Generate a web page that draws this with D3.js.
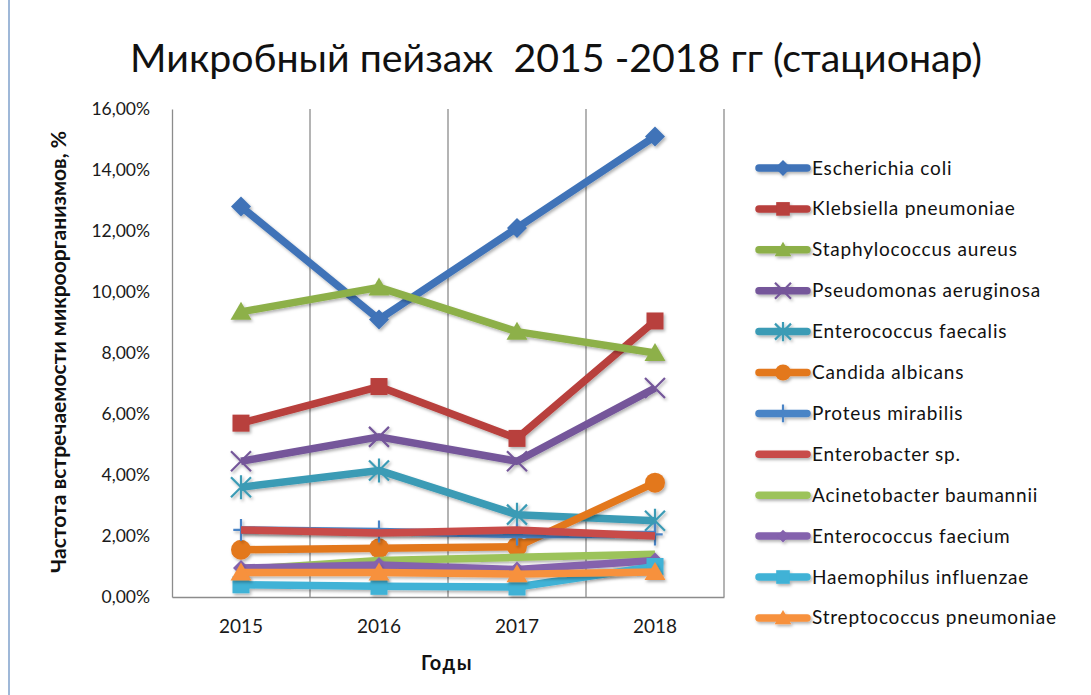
<!DOCTYPE html>
<html>
<head>
<meta charset="utf-8">
<script src="https://cdn.jsdelivr.net/npm/d3@7"></script>
<style>
  html, body { margin: 0; padding: 0; background: #fff; }
  svg { display: block; font-family: Lato, "Open Sans", sans-serif; }
</style>
</head>
<body>
<svg id="chart" width="1091" height="695"></svg>
<script>
// Years on the category axis
const years = ["2015", "2016", "2017", "2018"];

// Share of each organism per year (fractions)
const escherichiaColi        = [0.128, 0.091, 0.121, 0.151];
const klebsiellaPneumoniae   = [0.057, 0.069, 0.052, 0.0905];
const staphylococcusAureus   = [0.0935, 0.1015, 0.087, 0.080];
const pseudomonasAeruginosa  = [0.0445, 0.0525, 0.0445, 0.0685];
const enterococcusFaecalis   = [0.036, 0.0415, 0.027, 0.025];
const candidaAlbicans        = [0.0155, 0.016, 0.0165, 0.0375];
const proteusMirabilis       = [0.022, 0.0215, 0.0205, 0.0205];
const enterobacterSp         = [0.022, 0.021, 0.022, 0.020];
const acinetobacterBaumannii = [0.009, 0.012, 0.013, 0.014];
const enterococcusFaecium    = [0.0095, 0.0105, 0.009, 0.012];
const haemophilusInfluenzae  = [0.004, 0.0035, 0.0033, 0.010];
const streptococcusPneumoniae= [0.008, 0.008, 0.0075, 0.0082];

const seriesNames = [
  "Escherichia coli", "Klebsiella pneumoniae", "Staphylococcus aureus",
  "Pseudomonas aeruginosa", "Enterococcus faecalis", "Candida albicans",
  "Proteus mirabilis", "Enterobacter sp.", "Acinetobacter baumannii",
  "Enterococcus faecium", "Haemophilus influenzae", "Streptococcus pneumoniae"
];
const seriesValues = [
  escherichiaColi, klebsiellaPneumoniae, staphylococcusAureus,
  pseudomonasAeruginosa, enterococcusFaecalis, candidaAlbicans,
  proteusMirabilis, enterobacterSp, acinetobacterBaumannii,
  enterococcusFaecium, haemophilusInfluenzae, streptococcusPneumoniae
];
const yTicks = [0, 0.02, 0.04, 0.06, 0.08, 0.10, 0.12, 0.14, 0.16];

// Styling per series: colour and marker shape
const colors = ["#3f73b8", "#b83f3c", "#8db04a", "#74579a", "#3b9bb5", "#e3781f",
                "#4a84c6", "#c84b48", "#9cc35a", "#8462ad", "#3fb2d6", "#f7913e"];
const markers = ["diamond", "square", "triangle", "cross", "star", "circle",
                 "plus", "none", "none", "diamondSmall", "square", "triangle"];

const svg = d3.select("#chart");
const W = 1091, H = 695;
const plot = { left: 172, right: 724, top: 109, bottom: 597 };

const ru = d3.formatLocale({ decimal: ",", thousands: "\u00a0", grouping: [3], currency: ["", ""], percent: "%" });
const fmt = ru.format(".2%");

const x = d3.scaleBand().domain(years).range([plot.left, plot.right]).padding(0);
const xc = d => x(d) + x.bandwidth() / 2;
const y = d3.scaleLinear().domain([0, 0.16]).range([plot.bottom, plot.top]);

// Soft shadow under lines and markers (wide absolute region so flat lines keep it)
const defs = svg.append("defs");
const f = defs.append("filter").attr("id", "shadow").attr("filterUnits", "userSpaceOnUse")
  .attr("x", -W).attr("y", -H).attr("width", 3 * W).attr("height", 3 * H);
f.append("feDropShadow").attr("dx", 1.5).attr("dy", 2).attr("stdDeviation", 1.5)
  .attr("flood-color", "#000").attr("flood-opacity", 0.3);

function fitWidth(t, target) {
  const w = t.node().getComputedTextLength();
  const fs = parseFloat(t.style("font-size"));
  t.style("font-size", (fs * target / w).toFixed(2) + "px");
}

// Frame edge on the left
svg.append("line").attr("x1", 9).attr("x2", 9).attr("y1", 0).attr("y2", H)
  .attr("stroke", "#9fb8d8").attr("stroke-width", 2);

// Title
const title = svg.append("text").attr("x", 556).attr("y", 72).attr("text-anchor", "middle")
  .attr("fill", "#111").style("font-size", "36px")
  .attr("xml:space", "preserve")
  .text("Микробный пейзаж  2015 -2018 гг (стационар)");
fitWidth(title, 852);

// Vertical gridlines at category boundaries
const bounds = years.map(d => x(d) + x.bandwidth());
svg.append("g").selectAll("line").data(bounds).join("line")
  .attr("x1", d => d).attr("x2", d => d).attr("y1", plot.top).attr("y2", plot.bottom)
  .attr("stroke", "#8c8c8c").attr("stroke-width", 1.3);

// Axes
const yAxis = svg.append("g").attr("transform", `translate(${plot.left},0)`)
  .call(d3.axisLeft(y).tickValues(yTicks).tickFormat(fmt).tickSize(0).tickPadding(22))
  .attr("font-family", null).attr("font-size", null);
yAxis.select(".domain").attr("stroke", "#8c8c8c").attr("stroke-width", 1.3);
yAxis.selectAll("text").style("font-size", "17.5px").attr("fill", "#1a1a1a");

const xAxis = svg.append("g").attr("transform", `translate(0,${plot.bottom})`)
  .call(d3.axisBottom(x).tickSize(0).tickPadding(23))
  .attr("font-family", null).attr("font-size", null);
xAxis.select(".domain").attr("stroke", "#8c8c8c").attr("stroke-width", 1.3);
xAxis.selectAll("text").style("font-size", "19px").attr("fill", "#1a1a1a");

// Axis titles
const yTitle = svg.append("text").attr("transform", "translate(66,352) rotate(-90)").attr("text-anchor", "middle")
  .style("font-size", "17px").style("font-weight", "bold").attr("fill", "#111")
  .text("Частота встречаемости микроорганизмов, %");
fitWidth(yTitle, 442);
svg.append("text").attr("x", 447).attr("y", 670).attr("text-anchor", "middle")
  .style("font-size", "20px").style("font-weight", "bold").style("letter-spacing", "1.5px").attr("fill", "#111")
  .text("Годы");

// Marker drawing
function drawMarker(g, type, color, big) {
  const s = big ? 1 : 0.8;
  if (type === "diamond" || type === "diamondSmall") {
    const r = (type === "diamond" ? 10 : 8) * s;
    g.append("path").attr("d", `M0,${-r}L${r},0L0,${r}L${-r},0Z`).attr("fill", color);
  } else if (type === "square") {
    const r = 8.5 * s;
    g.append("rect").attr("x", -r).attr("y", -r).attr("width", 2 * r).attr("height", 2 * r).attr("fill", color);
  } else if (type === "triangle") {
    const r = 10 * s;
    g.append("path").attr("d", `M0,${-r}L${r * 1.05},${r * 0.8}L${-r * 1.05},${r * 0.8}Z`).attr("fill", color);
  } else if (type === "circle") {
    g.append("circle").attr("r", 10 * s).attr("fill", color);
  } else if (type === "cross") {
    const r = 10 * s;
    g.append("path").attr("d", `M${-r},${-r}L${r},${r}M${-r},${r}L${r},${-r}`)
      .attr("stroke", color).attr("stroke-width", 2.2);
  } else if (type === "star") {
    const r = 10 * s;
    g.append("path").attr("d", `M${-r},${-r}L${r},${r}M${-r},${r}L${r},${-r}M0,${-r * 1.2}L0,${r * 1.2}`)
      .attr("stroke", color).attr("stroke-width", 2.2);
  } else if (type === "plus") {
    const r = 11 * s;
    g.append("path").attr("d", `M0,${-r}L0,${r}M${-r * 0.7},0L${r * 0.7},0`)
      .attr("stroke", color).attr("stroke-width", 2.2);
  }
}

// Series lines and markers
const line = d3.line().x((d, i) => xc(years[i])).y(d => y(d));
const seriesG = svg.append("g");
seriesValues.forEach((vals, k) => {
  const g = seriesG.append("g").attr("filter", "url(#shadow)");
  g.append("path").datum(vals).attr("d", line).attr("fill", "none")
    .attr("stroke", colors[k]).attr("stroke-width", 7.5).attr("stroke-linejoin", "round");
  vals.forEach((v, i) => {
    const m = g.append("g").attr("transform", `translate(${xc(years[i])},${y(v)})`);
    drawMarker(m, markers[k], colors[k], true);
  });
});

// Legend
const legend = svg.append("g");
seriesNames.forEach((name, k) => {
  const cy = 168 + k * 40.9;
  const g = legend.append("g").attr("transform", `translate(0,${cy})`);
  const gl = g.append("g").attr("filter", "url(#shadow)");
  gl.append("line").attr("x1", 759).attr("x2", 807).attr("y1", 0).attr("y2", 0)
    .attr("stroke", colors[k]).attr("stroke-width", 7.5).attr("stroke-linecap", "round");
  const m = gl.append("g").attr("transform", "translate(783,0)");
  drawMarker(m, markers[k], colors[k], false);
  g.append("text").attr("x", 812).attr("y", 6.5).style("font-size", "19px")
    .style("letter-spacing", "0.8px").attr("fill", "#111").text(name);
});
</script>
</body>
</html>
